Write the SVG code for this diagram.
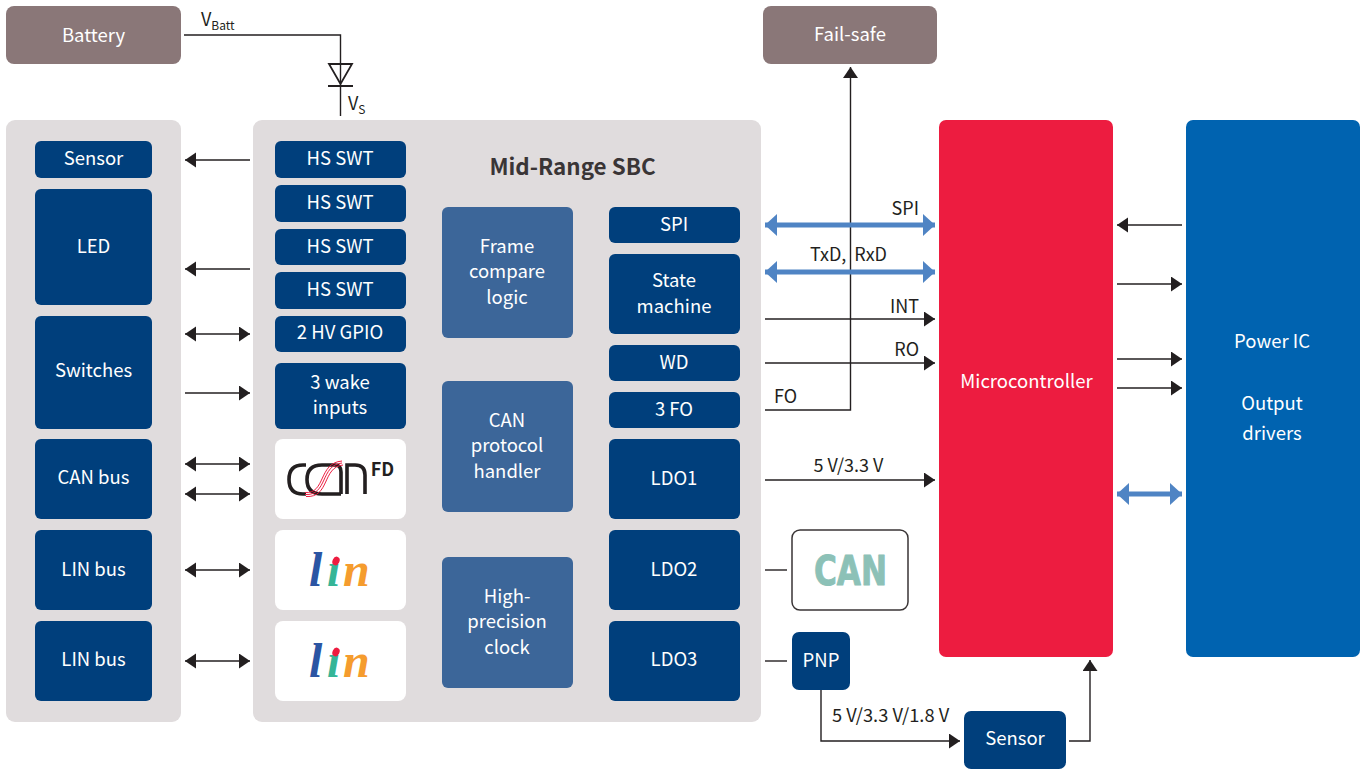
<svg xmlns="http://www.w3.org/2000/svg" width="1368" height="769" viewBox="0 0 1368 769">
<style>
text{font-family:"Noto Sans CJK SC","Noto Sans",sans-serif;font-size:18.5px;text-anchor:middle;fill:#fff}
.d{fill:#003f7c}.m{fill:#3c6699}.g{fill:#e0dcdd}.t{fill:#8a7778}.w{fill:#fff}
.k{fill:#231f20;font-size:18px}.s{text-anchor:start}.e{text-anchor:end}
.l{stroke:#231f20;stroke-width:1.4;fill:none}
.b{stroke:#4f84c4;stroke-width:5;fill:none}
.h{fill:#231f20}.a{fill:#4f84c4}
.h1{font-size:22.400px;font-weight:700;fill:#3a3536}
.sub{font-size:12px}
.lin{font-family:"Liberation Serif",serif;font-style:italic;font-weight:700;font-size:48px;text-anchor:start}
.cf{fill:none;stroke:#231f20;stroke-width:3.600}
.cr{fill:none;stroke:#ed1c40;stroke-width:1}
</style>
<defs>
<marker id="ah" markerUnits="userSpaceOnUse" markerWidth="12" markerHeight="16" refX="11" refY="7.500" orient="auto-start-reverse"><path d="M0 0L11 7.500L0 15Z" class="h"/></marker>
<marker id="ab" markerUnits="userSpaceOnUse" markerWidth="13" markerHeight="23" refX="12" refY="11" orient="auto-start-reverse"><path d="M0 0L12 11L0 22Z" class="a"/></marker>
</defs>

<g id="panel-left"><rect x="6" y="120" width="175" height="602" rx="9" class="g"/></g>
<g id="panel-sbc"><rect x="253" y="120" width="508" height="602" rx="9" class="g"/><text x="572.500" y="175" class="h1">Mid-Range SBC</text></g>
<g id="battery"><rect x="6" y="6" width="175" height="58" rx="8" class="t"/><text x="93.500" y="42">Battery</text></g>
<g id="failsafe"><rect x="763" y="6" width="174" height="58" rx="8" class="t"/><text x="850" y="41">Fail-safe</text></g>

<g id="sensor-left"><rect x="35" y="141" width="117" height="37" rx="6" class="d"/><text x="93.500" y="165">Sensor</text></g>
<g id="led"><rect x="35" y="189" width="117" height="116" rx="6" class="d"/><text x="93.500" y="253">LED</text></g>
<g id="switches"><rect x="35" y="316" width="117" height="113" rx="6" class="d"/><text x="93.500" y="377">Switches</text></g>
<g id="canbus"><rect x="35" y="439" width="117" height="80" rx="6" class="d"/><text x="93.500" y="484">CAN bus</text></g>
<g id="linbus1"><rect x="35" y="530" width="117" height="80" rx="6" class="d"/><text x="93.500" y="576">LIN bus</text></g>
<g id="linbus2"><rect x="35" y="621" width="117" height="80" rx="6" class="d"/><text x="93.500" y="666">LIN bus</text></g>

<g id="hsswt1"><rect x="275" y="141" width="131" height="37" rx="6" class="d"/><text x="340" y="165">HS SWT</text></g>
<g id="hsswt2"><rect x="275" y="185" width="131" height="37" rx="6" class="d"/><text x="340" y="209">HS SWT</text></g>
<g id="hsswt3"><rect x="275" y="229" width="131" height="36" rx="6" class="d"/><text x="340" y="253">HS SWT</text></g>
<g id="hsswt4"><rect x="275" y="272" width="131" height="37" rx="6" class="d"/><text x="340" y="296">HS SWT</text></g>
<g id="gpio"><rect x="275" y="316" width="131" height="36" rx="6" class="d"/><text x="340" y="339">2 HV GPIO</text></g>
<g id="wake"><rect x="275" y="363" width="131" height="66" rx="6" class="d"/><text x="340" y="389">3 wake</text><text x="340" y="414">inputs</text></g>

<g id="canfd-logo"><rect x="275" y="439" width="131" height="80" rx="8" class="w"/>
<path class="cf" d="M306 465H303Q289 465 289 479.500Q289 494 303 494H306"/>
<path class="cf" d="M341 494H322Q307 494 307 479.500Q307 465 322 465H335Q341 465 341 472V494"/>
<path class="cf" d="M347 494V465H355Q365 465 365 475V494"/>
<path class="cr" d="M305 494.500C328 496 320 465 342 463M305 492.500C326 494 318 463 342 461M306 496.500C330 498 322 467 343 465"/>
<text x="382.500" y="476" style="font-size:18px;font-weight:700;fill:#231f20">FD</text></g>
<g id="lin-logo1"><rect x="275" y="530" width="131" height="80" rx="8" class="w"/><text x="309 327 343" y="586" class="lin"><tspan fill="#2b55a3">l</tspan><tspan fill="#35b597">ı</tspan><tspan fill="#f59c2e">n</tspan></text><ellipse cx="336" cy="561" rx="3.400" ry="4.500" fill="#ed1c40" transform="rotate(25 336 561)"/></g>
<g id="lin-logo2"><rect x="275" y="621" width="131" height="80" rx="8" class="w"/><text x="309 327 343" y="677" class="lin"><tspan fill="#2b55a3">l</tspan><tspan fill="#35b597">ı</tspan><tspan fill="#f59c2e">n</tspan></text><ellipse cx="336" cy="652" rx="3.400" ry="4.500" fill="#ed1c40" transform="rotate(25 336 652)"/></g>

<g id="frame"><rect x="442" y="207" width="131" height="131" rx="6" class="m"/><text x="507" y="253">Frame</text><text x="507" y="278">compare</text><text x="507" y="304">logic</text></g>
<g id="canproto"><rect x="442" y="381" width="131" height="131" rx="6" class="m"/><text x="507" y="427">CAN</text><text x="507" y="452">protocol</text><text x="507" y="478">handler</text></g>
<g id="clock"><rect x="442" y="557" width="131" height="131" rx="6" class="m"/><text x="507" y="603">High-</text><text x="507" y="628">precision</text><text x="507" y="654">clock</text></g>

<g id="spi"><rect x="609" y="207" width="131" height="36" rx="6" class="d"/><text x="674" y="231">SPI</text></g>
<g id="state"><rect x="609" y="254" width="131" height="80" rx="6" class="d"/><text x="674" y="287">State</text><text x="674" y="313">machine</text></g>
<g id="wd"><rect x="609" y="345" width="131" height="36" rx="6" class="d"/><text x="674" y="369">WD</text></g>
<g id="fo"><rect x="609" y="392" width="131" height="36" rx="6" class="d"/><text x="674" y="416">3 FO</text></g>
<g id="ldo1"><rect x="609" y="439" width="131" height="80" rx="6" class="d"/><text x="674" y="485">LDO1</text></g>
<g id="ldo2"><rect x="609" y="530" width="131" height="80" rx="6" class="d"/><text x="674" y="576">LDO2</text></g>
<g id="ldo3"><rect x="609" y="621" width="131" height="80" rx="6" class="d"/><text x="674" y="666">LDO3</text></g>

<g id="can-tx"><rect x="792" y="530" width="116" height="80" rx="8" fill="#fff" stroke="#3a3536" stroke-width="1.500"/><text x="814" y="584.500" textLength="73" lengthAdjust="spacingAndGlyphs" style="text-anchor:start;font-size:40px;font-weight:700;fill:#8cc1b7;stroke:#8cc1b7;stroke-width:1;stroke-linejoin:round;font-family:'DejaVu Sans',sans-serif">CAN</text></g>
<g id="pnp"><rect x="792" y="632" width="58" height="58" rx="7" class="d"/><text x="821" y="667">PNP</text></g>
<g id="sensor-bottom"><rect x="964" y="711" width="102" height="58" rx="7" class="d"/><text x="1015" y="745">Sensor</text></g>
<g id="mcu"><rect x="939" y="120" width="174" height="537" rx="7" fill="#ed1c40"/><text x="1026.500" y="388">Microcontroller</text></g>
<g id="poweric"><rect x="1186" y="120" width="174" height="537" rx="7" fill="#0063b0"/><text x="1272" y="348">Power IC</text><text x="1272" y="410">Output</text><text x="1272" y="440">drivers</text></g>

<g id="connectors">
<path class="l" d="M184 35H340.500V116"/>
<path class="l" style="stroke-width:1.800" d="M329 64H352L340.500 84ZM328 86H353"/>
<path class="l" d="M250 160H185" marker-end="url(#ah)"/>
<path class="l" d="M250 269H185" marker-end="url(#ah)"/>
<path class="l" d="M185 334H250" marker-start="url(#ah)" marker-end="url(#ah)"/>
<path class="l" d="M185 393H250" marker-end="url(#ah)"/>
<path class="l" d="M185 464H250" marker-start="url(#ah)" marker-end="url(#ah)"/>
<path class="l" d="M185 494H250" marker-start="url(#ah)" marker-end="url(#ah)"/>
<path class="l" d="M185 570H250" marker-start="url(#ah)" marker-end="url(#ah)"/>
<path class="l" d="M185 661H250" marker-start="url(#ah)" marker-end="url(#ah)"/>
<path class="l" d="M765 410H850.500V67" marker-end="url(#ah)"/>
<path class="b" d="M765 225H935" marker-start="url(#ab)" marker-end="url(#ab)"/>
<path class="b" d="M765 272H935" marker-start="url(#ab)" marker-end="url(#ab)"/>
<path class="l" d="M765 319H935" marker-end="url(#ah)"/>
<path class="l" d="M765 363H935" marker-end="url(#ah)"/>
<path class="l" d="M765 480H935" marker-end="url(#ah)"/>
<path class="l" d="M765 570H787"/>
<path class="l" d="M765 661H787"/>
<path class="l" d="M821 690V741H960" marker-end="url(#ah)"/>
<path class="l" d="M1069 741H1090V660" marker-end="url(#ah)"/>
<path class="l" d="M1182 225H1117" marker-end="url(#ah)"/>
<path class="l" d="M1117 284H1182" marker-end="url(#ah)"/>
<path class="l" d="M1117 359H1182" marker-end="url(#ah)"/>
<path class="l" d="M1117 388H1182" marker-end="url(#ah)"/>
<path class="b" d="M1117 494H1182" marker-start="url(#ab)" marker-end="url(#ab)"/>
</g>
<g id="labels">
<text x="201" y="26" class="k s">V<tspan dy="4" class="sub">Batt</tspan></text>
<text x="348" y="110" class="k s">V<tspan dy="4" class="sub">S</tspan></text>
<text x="919" y="215" class="k e">SPI</text>
<text x="848.500" y="261" class="k" word-spacing="4">TxD, RxD</text>
<text x="919" y="313" class="k e">INT</text>
<text x="919" y="356" class="k e">RO</text>
<text x="774" y="403" class="k s">FO</text>
<text x="848.500" y="472" class="k">5 V/3.3 V</text>
<text x="832" y="722" class="k s" style="font-size:18.300px">5 V/3.3 V/1.8 V</text>
</g>
</svg>
